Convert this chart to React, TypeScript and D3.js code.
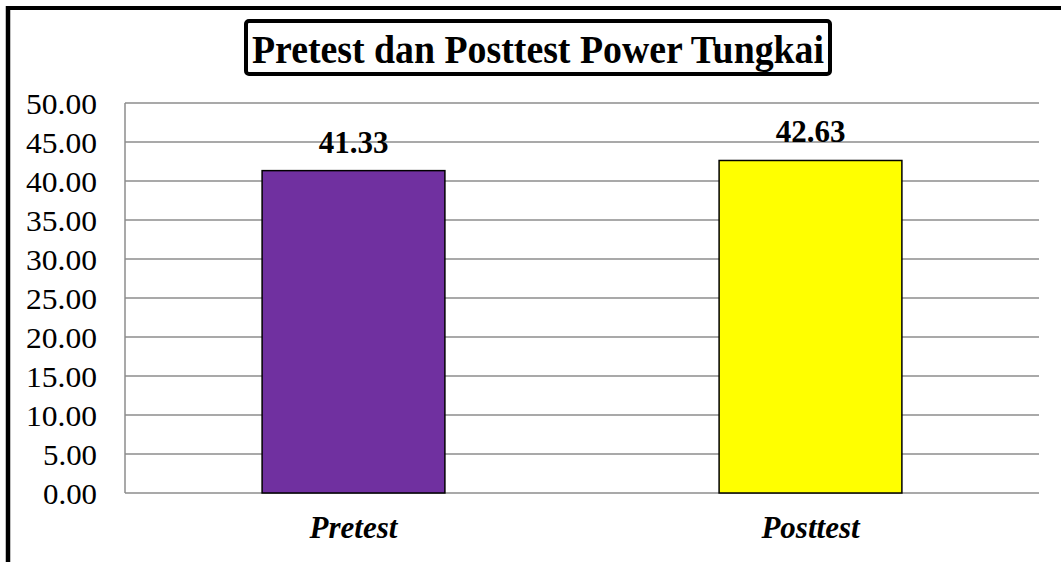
import React from 'react'
import * as d3 from 'd3'

const categories = ['Pretest', 'Posttest']
const values = [41.33, 42.63]
const barColors = ['#7030A0', '#FFFF00']
const yTicks = [0, 5, 10, 15, 20, 25, 30, 35, 40, 45, 50]
const chartTitle = 'Pretest dan Posttest Power Tungkai'

const width = 1061
const height = 562
const plot = {left: 125, right: 1039, top: 103, bottom: 493}
const serif = '"Liberation Serif", "Times New Roman", serif'

export default function App() {
  const x = d3
    .scaleBand()
    .domain(categories)
    .range([plot.left, plot.right])
    .paddingInner(0.6)
    .paddingOuter(0.3)

  const y = d3.scaleLinear().domain([0, 50]).range([plot.bottom, plot.top])

  return (
    <svg
      width={width}
      height={height}
      style={{position: 'absolute', left: 0, top: 0, background: '#fff'}}
      fontFamily={serif}
    >
      {/* outer frame, only left and top visible */}
      <line x1={8} y1={6} x2={8} y2={height} stroke="#000" strokeWidth={4.5} />
      <line x1={6} y1={8} x2={width} y2={8} stroke="#000" strokeWidth={4} />

      {/* title box */}
      <rect x={246} y={21} width={584} height={53} rx={3} fill="#fff" stroke="#000" strokeWidth={4} />
      <text
        x={538}
        y={63}
        textAnchor="middle"
        fontSize={39}
        fontWeight="bold"
        textLength={572}
        lengthAdjust="spacingAndGlyphs"
      >
        {chartTitle}
      </text>

      {/* gridlines */}
      {yTicks.map((t) => (
        <line key={t} x1={plot.left} x2={plot.right} y1={y(t)} y2={y(t)} stroke="#8c8c8c" strokeWidth={1.5} />
      ))}
      <line x1={plot.left} x2={plot.left} y1={plot.top} y2={plot.bottom} stroke="#8c8c8c" strokeWidth={1.5} />

      {/* y tick labels */}
      {yTicks.map((t) => (
        <text key={t} x={97} y={y(t) + 11} textAnchor="end" fontSize={30} textLength={t < 10 ? 54 : 71} lengthAdjust="spacingAndGlyphs">
          {t.toFixed(2)}
        </text>
      ))}

      {/* bars */}
      {categories.map((c, i) => (
        <g key={c}>
          <rect
            x={x(c)}
            y={y(values[i])}
            width={x.bandwidth()}
            height={y(0) - y(values[i])}
            fill={barColors[i]}
            stroke="#000"
            strokeWidth={1.5}
          />
          <text
            x={x(c)! + x.bandwidth() / 2}
            y={y(values[i]) - 18}
            textAnchor="middle"
            fontSize={31}
            fontWeight="bold"
          >
            {values[i].toFixed(2)}
          </text>
          <text
            x={x(c)! + x.bandwidth() / 2}
            y={538}
            textAnchor="middle"
            fontSize={31}
            fontWeight="bold"
            fontStyle="italic"
          >
            {c}
          </text>
        </g>
      ))}
    </svg>
  )
}
